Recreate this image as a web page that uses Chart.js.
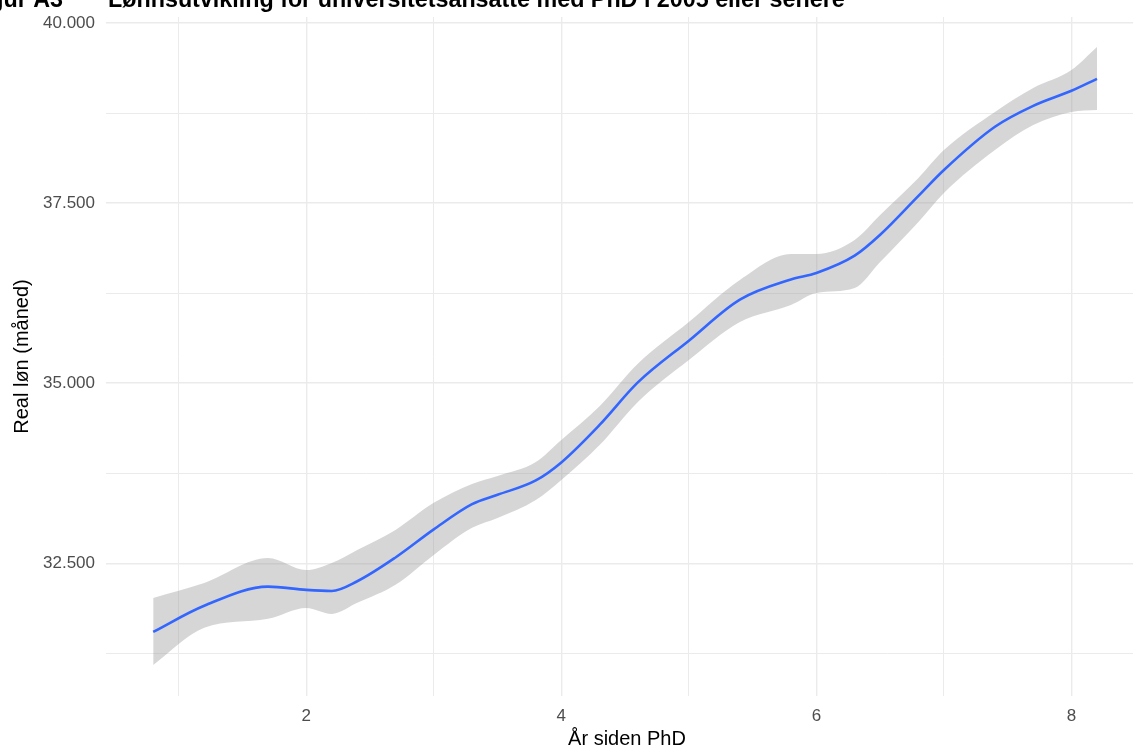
<!DOCTYPE html>
<html lang="no">
<head>
<meta charset="utf-8">
<title>Lønnsutvikling for universitetsansatte</title>
<script src="https://cdn.jsdelivr.net/npm/chart.js@4/dist/chart.umd.min.js"></script>
<style>
  html, body { margin: 0; padding: 0; background: #ffffff; overflow: hidden; }
  #wrap { position: relative; width: 1148px; height: 747px; }
</style>
</head>
<body>
<div id="wrap"><canvas id="chart" width="1148" height="747"></canvas></div>
<script>
// Smoothed salary curve (loess fit) with its confidence band
const yearsSincePhd = [0.8, 1.2, 1.7, 2.0, 2.2, 2.4, 2.7, 3.0, 3.3, 3.5, 3.8, 4.0, 4.3,
                       4.6, 5.0, 5.4, 5.8, 6.0, 6.3, 6.5, 6.8, 7.0, 7.4, 7.7, 8.0, 8.2];
const fittedSalary  = [31547, 31910, 32175, 32130, 32115, 32250, 32580, 32970, 33320, 33450,
                       33650, 33900, 34420, 35010, 35590, 36160, 36440, 36530, 36770, 37060,
                       37600, 37960, 38560, 38850, 39060, 39225];
const upperBand     = [32019, 32227, 32574, 32407, 32505, 32685, 32963, 33338, 33601, 33712,
                       33906, 34212, 34680, 35270, 35850, 36433, 36794, 36794, 36988, 37335,
                       37849, 38237, 38765, 39098, 39348, 39667];
const lowerBand     = [31089, 31603, 31728, 31880, 31797, 31950, 32200, 32616, 32991, 33129,
                       33379, 33657, 34140, 34740, 35322, 35850, 36086, 36253, 36322, 36683,
                       37238, 37640, 38237, 38584, 38765, 38792];

const xMajorTicks = [2, 4, 6, 8];
const xMinorTicks = [1, 3, 5, 7];
const yMajorTicks = [32500, 35000, 37500, 40000];
const yMinorTicks = [31250, 33750, 36250, 38750];

const figureLabel = 'Figur A3';
const figureTitle = 'Lønnsutvikling for universitetsansatte med PhD i 2005 eller senere';

const toPoints = ys => yearsSincePhd.map((x, i) => ({ x: x, y: ys[i] }));

function formatThousands(v) {
  const n = Math.round(v);
  const hi = Math.floor(n / 1000);
  const lo = String(n % 1000).padStart(3, '0');
  return hi + '.' + lo;
}

const FONT = "'Liberation Sans', Arial, sans-serif";
const GRID = '#ebebeb';

// Figure caption drawn along the top edge of the canvas
const captionPlugin = {
  id: 'caption',
  afterDraw(chart) {
    const ctx = chart.ctx;
    ctx.save();
    ctx.fillStyle = '#000000';
    ctx.font = 'bold 23.3px ' + FONT;
    ctx.textBaseline = 'alphabetic';
    ctx.textAlign = 'right';
    ctx.fillText(figureLabel, 63, 7);
    ctx.textAlign = 'left';
    ctx.fillText(figureTitle, 108, 7);
    ctx.restore();
  }
};

const sortedTicks = (a, b) => [...a, ...b].sort((p, q) => p - q).map(v => ({ value: v }));

new Chart(document.getElementById('chart'), {
  type: 'line',
  data: {
    datasets: [
      {
        label: 'lower',
        data: toPoints(lowerBand),
        borderWidth: 0,
        pointRadius: 0,
        fill: false,
        cubicInterpolationMode: 'monotone',
        order: 3
      },
      {
        label: 'upper',
        data: toPoints(upperBand),
        borderWidth: 0,
        pointRadius: 0,
        backgroundColor: 'rgba(153,153,153,0.4)',
        fill: '-1',
        cubicInterpolationMode: 'monotone',
        order: 2
      },
      {
        label: 'fit',
        data: toPoints(fittedSalary),
        borderColor: '#3366ff',
        borderWidth: 2.6,
        pointRadius: 0,
        fill: false,
        cubicInterpolationMode: 'monotone',
        order: 1
      }
    ]
  },
  options: {
    responsive: false,
    animation: false,
    layout: { padding: { left: 0, right: 0, top: 17, bottom: 0 } },
    plugins: {
      legend: { display: false },
      tooltip: { enabled: false },
      filler: { propagate: false }
    },
    scales: {
      x: {
        type: 'linear',
        min: 0.43,
        max: 8.6,
        afterBuildTicks: s => { s.ticks = sortedTicks(xMajorTicks, xMinorTicks); },
        afterFit: s => { s.height = 51; s.paddingLeft = 0; s.paddingRight = 0; },
        border: { display: false },
        grid: {
          drawTicks: false,
          color: GRID,
          lineWidth: c => (xMajorTicks.includes(c.tick.value) ? 1.4 : 1)
        },
        ticks: {
          padding: 10,
          color: '#4d4d4d',
          font: { family: FONT, size: 17 },
          maxRotation: 0,
          autoSkip: false,
          callback: v => (xMajorTicks.includes(v) ? String(v) : '')
        },
        title: {
          display: true,
          text: 'År siden PhD',
          color: '#000000',
          font: { family: FONT, size: 20 },
          padding: { top: 0, bottom: -4 }
        }
      },
      y: {
        type: 'linear',
        min: 30657,
        max: 40083,
        afterBuildTicks: s => { s.ticks = sortedTicks(yMajorTicks, yMinorTicks); },
        afterFit: s => { s.width = 106; s.paddingTop = 0; s.paddingBottom = 0; },
        border: { display: false },
        grid: {
          drawTicks: false,
          color: GRID,
          lineWidth: c => (yMajorTicks.includes(c.tick.value) ? 1.4 : 1)
        },
        ticks: {
          padding: 11,
          color: '#4d4d4d',
          font: { family: FONT, size: 17 },
          autoSkip: false,
          callback: v => (yMajorTicks.includes(v) ? formatThousands(v) : '')
        },
        title: {
          display: true,
          text: 'Real løn (måned)',
          color: '#000000',
          font: { family: FONT, size: 20 },
          padding: { top: 10, bottom: 0 }
        }
      }
    }
  },
  plugins: [captionPlugin]
});
</script>
</body>
</html>
